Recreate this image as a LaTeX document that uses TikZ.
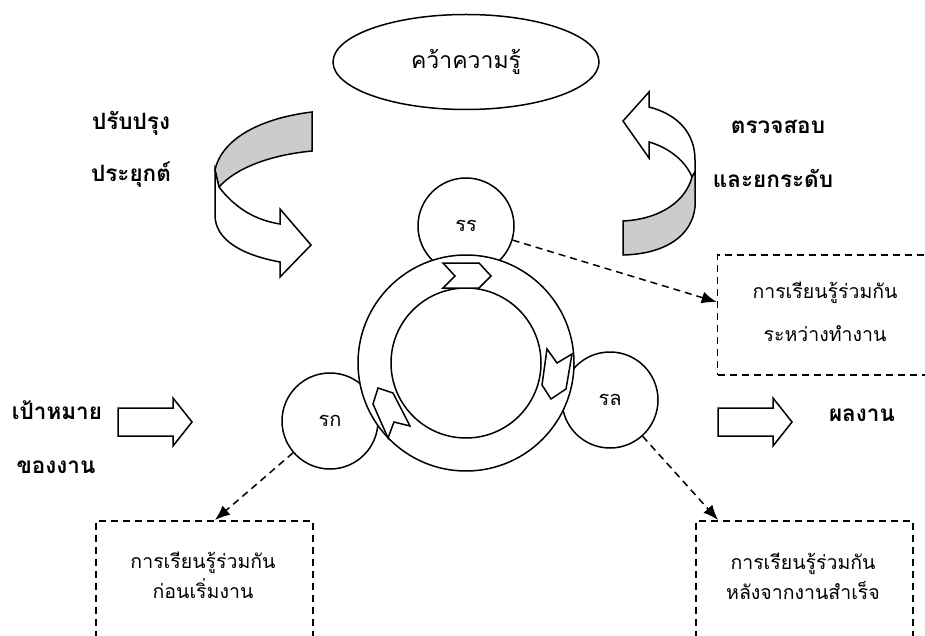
\documentclass[tikz,border=0pt]{standalone}
\usepackage{fontspec}
\usepackage{tikz}
\usetikzlibrary{shapes.geometric,arrows.meta}
\newfontfamily\thaifont[Script=Thai]{Loma}

\begin{document}
\begin{tikzpicture}[x=1pt,y=-1pt,line width=1.5pt]

\useasboundingbox (0,0) rectangle (925,636);
\clip (0,0) rectangle (925,636);

\tikzset{RoundStyle/.style={circle,draw,fill=white,minimum size=96pt,inner sep=0pt,font=\thaifont\fontsize{20}{22}\selectfont}}
\tikzset{LabelStyle/.style={inner sep=0pt,font=\thaifont\bfseries\fontsize{22.5}{26}\selectfont}}
\tikzset{BoxStyle/.style={draw,dash pattern=on 7pt off 5pt,minimum width=217pt,inner sep=0pt}}
\tikzset{NoteStyle/.style={inner sep=0pt,align=center,font=\thaifont\fontsize{19.5}{30}\selectfont}}
\tikzset{LinkStyle/.style={dash pattern=on 7pt off 5pt,-{Latex[length=15pt,width=12pt]}}}

\node[ellipse,draw,minimum width=266pt,minimum height=95pt,font=\thaifont\fontsize{23}{26}\selectfont] (grab) at (466,62) {คว้าความรู้};

\node[RoundStyle] (rr) at (466,226) {รร};
\node[RoundStyle] (rk) at (330,421) {รก};
\node[RoundStyle] (rl) at (610,400) {รล};

\node[circle,draw,fill=white,minimum size=216pt] (outer) at (466,363) {};
\node[circle,draw,fill=white,minimum size=150pt] (inner) at (466,363) {};

\draw[fill=white] (443,263) -- (479,263) -- (491,276) -- (479,288) -- (443,288) -- (455,276) -- cycle;
\draw[fill=white] (547,349) -- (557,363) -- (572,354) -- (566,389) -- (551,399) -- (542,385) -- cycle;
\draw[fill=white] (373,404) -- (378,388) -- (393,393) -- (410,426) -- (394,422) -- (388,438) -- cycle;

\draw[fill=gray!40] (312,112) .. controls (262,118) and (222,138) .. (215,170) -- (219,187) .. controls (236,168) and (270,155) .. (312,151) -- cycle;
\draw[fill=white] (215,170) -- (219,187) .. controls (235,208) and (255,220) .. (280,224) -- (280,209) -- (311,245) -- (280,277) -- (280,262) .. controls (242,255) and (215,240) .. (215,215) -- cycle;

\draw[fill=white] (623,121) -- (649,92) -- (649,107) .. controls (680,115) and (695,135) .. (695,160) -- (695,172) -- (692,177) .. controls (686,162) and (670,148) .. (649,142) -- (649,158) -- cycle;
\draw[fill=gray!40] (623,221) .. controls (662,219) and (686,200) .. (692,177) -- (695,172) -- (695,207) .. controls (692,236) and (665,254) .. (623,255) -- cycle;

\draw[fill=white] (118,408) -- (173,408) -- (173,398) -- (192,422) -- (173,446) -- (173,436) -- (118,436) -- cycle;
\draw[fill=white] (718,408) -- (773,408) -- (773,398) -- (792,422) -- (773,446) -- (773,436) -- (718,436) -- cycle;

\node[LabelStyle] (improve) at (131,123) {ปรับปรุง};
\node[LabelStyle] (apply) at (131,175) {ประยุกต์};
\node[LabelStyle] (check) at (778,127) {ตรวจสอบ};
\node[LabelStyle] (raise) at (773,178) {และยกระดับ};
\node[LabelStyle] (goal) at (57,410) {เป้าหมาย};
\node[LabelStyle] (work) at (56,467) {ของงาน};
\node[LabelStyle] (result) at (862,415) {ผลงาน};

\node[BoxStyle,minimum height=120pt] (during) at (826,315) {};
\node[BoxStyle,minimum height=140pt,anchor=north west] (before) at (95,520) {};
\node[BoxStyle,minimum height=140pt,anchor=north west] (after) at (695,520) {};

\node[NoteStyle,font=\thaifont\fontsize{19.5}{43}\selectfont] (duringtext) at (825,312) {การเรียนรู้ร่วมกัน\\ระหว่างทำงาน};
\node[NoteStyle] (beforetext) at (203,575) {การเรียนรู้ร่วมกัน\\ก่อนเริ่มงาน};
\node[NoteStyle] (aftertext) at (803,576) {การเรียนรู้ร่วมกัน\\หลังจากงานสำเร็จ};

\draw[LinkStyle] (rr) -- ([yshift=13pt]during.west);
\draw[LinkStyle] (rk) -- ([xshift=120pt]before.north west);
\draw[LinkStyle] (rl) -- ([xshift=23pt]after.north west);

\end{tikzpicture}
\end{document}
